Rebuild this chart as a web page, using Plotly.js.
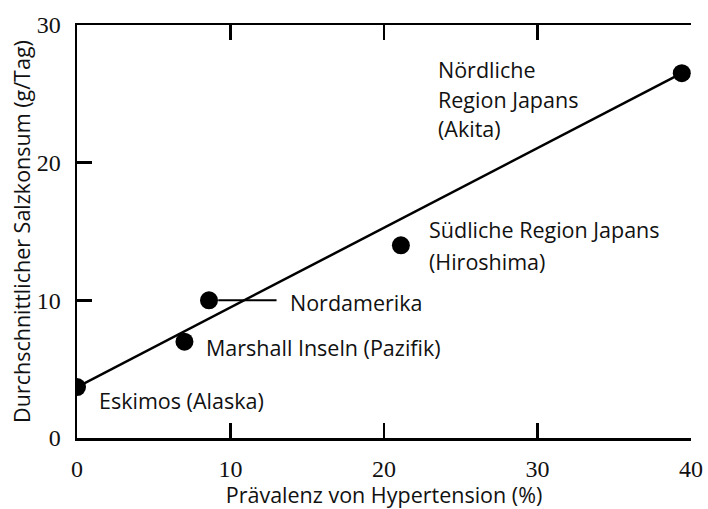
<!DOCTYPE html>
<html>
<head>
<meta charset="utf-8">
<script src="https://cdn.plot.ly/plotly-3.0.1.min.js"></script>
<style>html,body{margin:0;padding:0;background:#fff;}#chart{width:708px;height:509px;}</style>
</head>
<body>
<div id="chart"></div>
<script>
// Data
const regions = ["Eskimos (Alaska)", "Marshall Inseln (Pazifik)", "Nordamerika", "Südliche Region Japans (Hiroshima)", "Nördliche Region Japans (Akita)"];
const prevalence = [0, 7.0, 8.6, 21.1, 39.4];
const saltIntake = [3.7, 7.0, 10.0, 14.0, 26.5];
const fitX = [0, 39.4];
const fitY = [3.7, 26.5];
const xTickVals = [0, 10, 20, 30, 40];
const yTickVals = [0, 10, 20, 30];
const xTickMarks = [10, 20, 30];
const yTickMarks = [10, 20, 30];
const nordLeaderX = [9.2, 13.0];
const nordLeaderY = [10, 10];

// label lines: [text, x, y]
const labelLines = [
  ["Eskimos (Alaska)", 1.3, 2.7],
  ["Marshall Inseln (Pazifik)", 8.3, 6.6],
  ["Nordamerika", 13.75, 9.85],
  ["Südliche Region Japans", 22.8, 15.15],
  ["(Hiroshima)", 22.8, 12.8],
  ["Nördliche", 23.4, 26.8],
  ["Region Japans", 23.4, 24.6],
  ["(Akita)", 23.4, 22.5]
];

const annFont = {family: "Open Sans, sans-serif", size: 21.5, color: "#111"};
const tickFont = {family: "Liberation Serif, serif", size: 24, color: "#111"};

const traces = [
  {x: fitX, y: fitY, mode: "lines", line: {color: "#000", width: 2.5}, hoverinfo: "skip", showlegend: false},
  {x: nordLeaderX, y: nordLeaderY, mode: "lines", line: {color: "#000", width: 2}, hoverinfo: "skip", showlegend: false},
  {x: prevalence, y: saltIntake, text: regions, mode: "markers", marker: {color: "#000", size: 18}, showlegend: false},
  {x: [null], y: [null], xaxis: "x2", yaxis: "y2", mode: "markers", showlegend: false, hoverinfo: "skip"}
];

const layout = {
  width: 708, height: 509,
  margin: {l: 77, r: 17, t: 25, b: 71},
  paper_bgcolor: "#fff", plot_bgcolor: "#fff",
  showlegend: false,
  xaxis: {
    range: [0, 40], showgrid: false, zeroline: false,
    showline: true, linecolor: "#000", linewidth: 2.5, mirror: true,
    ticks: "", tickvals: xTickVals, tickfont: tickFont, ticklabelstandoff: 8,
    title: {text: "Prävalenz von Hypertension (%)", font: annFont, standoff: 6}
  },
  yaxis: {
    range: [0, 30], showgrid: false, zeroline: false,
    showline: true, linecolor: "#000", linewidth: 2.5,
    ticks: "", tickvals: yTickVals, tickfont: tickFont, ticklabelstandoff: 9,
    title: {text: "Durchschnittlicher Salzkonsum (g/Tag)", font: annFont, standoff: 0}
  },
  xaxis2: {
    overlaying: "x", anchor: "y2", side: "bottom", range: [0, 40],
    showgrid: false, zeroline: false, showline: false, mirror: "ticks",
    ticks: "inside", ticklen: 15, tickwidth: 2.5, tickcolor: "#000",
    tickvals: xTickMarks, showticklabels: false
  },
  yaxis2: {
    overlaying: "y", anchor: "x2", side: "left", range: [0, 30],
    showgrid: false, zeroline: false, showline: false,
    ticks: "inside", ticklen: 15, tickwidth: 2.5, tickcolor: "#000",
    tickvals: yTickMarks, showticklabels: false
  },
  annotations: labelLines.map(l => ({
    text: l[0], x: l[1], y: l[2], xref: "x", yref: "y",
    xanchor: "left", yanchor: "middle", showarrow: false, font: annFont
  }))
};

Plotly.newPlot("chart", traces, layout, {displayModeBar: false, staticPlot: true});
</script>
</body>
</html>
